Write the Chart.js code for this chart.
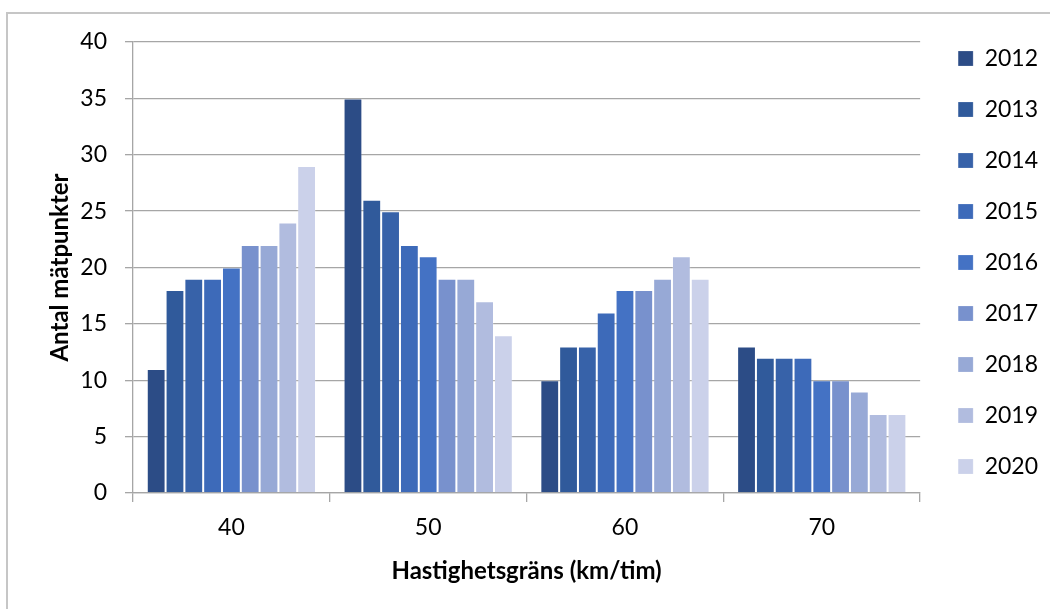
<!DOCTYPE html>
<html>
<head>
<meta charset="utf-8">
<script src="https://cdn.jsdelivr.net/npm/chart.js@4.4.1/dist/chart.umd.min.js"></script>
<style>
    html, body { margin: 0; padding: 0; background: #fff; overflow: hidden; }
    #frame { position: absolute; left: 6px; top: 12px; width: 1100px; height: 700px; border: 2px solid #c6c6c6; }
    #wrap { position: absolute; left: 0; top: 0; width: 1050px; height: 609px; }
</style>
</head>
<body>
<div id="frame"></div>
<div id="wrap"><canvas id="speedChart" width="1050" height="609"></canvas></div>
<script>
const categories = ['40', '50', '60', '70'];
const years = ['2012', '2013', '2014', '2015', '2016', '2017', '2018', '2019', '2020'];
const v2012 = [11, 35, 10, 13];
const v2013 = [18, 26, 13, 12];
const v2014 = [19, 25, 13, 12];
const v2015 = [19, 22, 16, 12];
const v2016 = [20, 21, 18, 10];
const v2017 = [22, 19, 18, 10];
const v2018 = [22, 19, 19, 9];
const v2019 = [24, 17, 21, 7];
const v2020 = [29, 14, 19, 7];
const yearValues = [v2012, v2013, v2014, v2015, v2016, v2017, v2018, v2019, v2020];
const colors = ['#2c4c86', '#305a9b', '#3762a9', '#3d6ab9', '#4472c4', '#7891cd', '#97a9d6', '#b1bcdf', '#cbd1ea'];

const fontFamily = 'Lato, "Open Sans", sans-serif';
const gridColor = '#a6a6a6';

const ctx = document.getElementById('speedChart').getContext('2d');

new Chart(ctx, {
    type: 'bar',
    data: {
        labels: categories,
        datasets: years.map((year, i) => ({
            label: year,
            data: yearValues[i],
            backgroundColor: colors[i],
            borderColor: 'rgba(255,255,255,0.18)',
            borderWidth: 1,
            categoryPercentage: 0.86,
            barPercentage: 1.0
        }))
    },
    options: {
        responsive: false,
        animation: false,
        layout: {
            padding: { left: 6, right: 2, top: 19, bottom: 0 }
        },
        plugins: {
            tooltip: { enabled: false },
            legend: {
                position: 'right',
                align: 'start',
                labels: {
                    boxWidth: 15,
                    boxHeight: 15,
                    padding: 28,
                    color: '#000',
                    font: { family: fontFamily, size: 23 }
                }
            }
        },
        scales: {
            x: {
                offset: true,
                grid: {
                    display: true,
                    drawOnChartArea: false,
                    offset: true,
                    tickLength: 9,
                    color: gridColor,
                    lineWidth: 1.3
                },
                border: { color: gridColor, width: 1.3 },
                ticks: {
                    color: '#000',
                    padding: 12,
                    font: { family: fontFamily, size: 23 }
                },
                title: {
                    display: true,
                    text: 'Hastighetsgräns (km/tim)',
                    color: '#000',
                    font: { family: fontFamily, size: 24, weight: 'bold' },
                    padding: { top: 0, bottom: 23 }
                },
                afterFit: scale => { scale.height = 116; }
            },
            // empty spacer boxes so the plot area lines up with the legend
            topGap: {
                position: 'top',
                display: true,
                grid: { display: false },
                border: { display: false },
                ticks: { display: false },
                afterFit: scale => { scale.height = 23; }
            },
            y: {
                min: 0,
                max: 40,
                ticks: {
                    stepSize: 5,
                    color: '#000',
                    padding: 18,
                    font: { family: fontFamily, size: 23 }
                },
                grid: {
                    color: gridColor,
                    lineWidth: 1.3,
                    tickLength: 8
                },
                border: { color: gridColor, width: 1.3 },
                title: {
                    display: true,
                    text: 'Antal mätpunkter',
                    color: '#000',
                    font: { family: fontFamily, size: 24, weight: 'bold' },
                    padding: { top: 40, bottom: 0 }
                },
                afterFit: scale => { scale.width = 127; }
            },
            gap: {
                position: 'right',
                display: true,
                grid: { display: false },
                border: { display: false },
                ticks: { display: false },
                afterFit: scale => { scale.width = 10; }
            }
        }
    }
});
</script>
</body>
</html>
